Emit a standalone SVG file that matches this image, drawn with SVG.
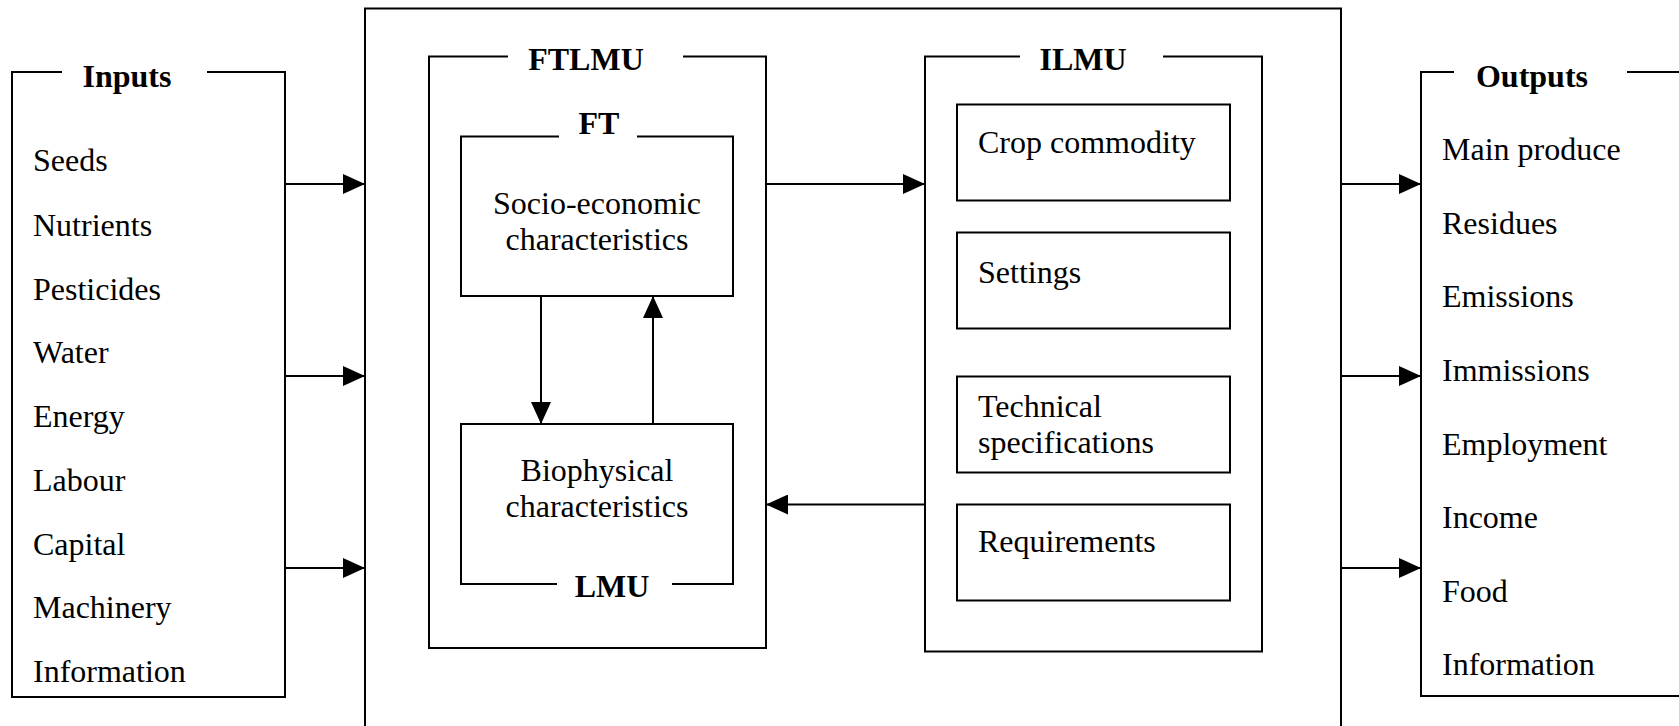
<svg xmlns="http://www.w3.org/2000/svg" width="1679" height="726" viewBox="0 0 1679 726">
  <style>
    .frame { fill: none; stroke: #000; stroke-width: 2; }
    .conn { fill: none; stroke: #000; stroke-width: 2; }
    text { font-family: "Liberation Serif", "Times New Roman", serif; font-size: 32px; fill: #000; }
    .title { font-weight: bold; text-anchor: middle; }
    .mid { text-anchor: middle; }
  </style>
  <defs>
    <marker id="arrow" markerUnits="userSpaceOnUse" markerWidth="22" markerHeight="20" refX="22" refY="10" orient="auto">
      <path d="M0,0 L22,10 L0,20 Z" fill="#000"/>
    </marker>
  </defs>
  <rect width="1679" height="726" fill="#fff"/>

  <!-- Inputs column -->
  <g id="inputs">
    <path class="frame" d="M62,72 H12 V697 H285 V72 H207"/>
    <text class="title" x="127" y="87">Inputs</text>
    <text x="33" y="171">Seeds</text>
    <text x="33" y="236">Nutrients</text>
    <text x="33" y="300">Pesticides</text>
    <text x="33" y="363">Water</text>
    <text x="33" y="427">Energy</text>
    <text x="33" y="491">Labour</text>
    <text x="33" y="555">Capital</text>
    <text x="33" y="618">Machinery</text>
    <text x="33" y="682">Information</text>
  </g>

  <!-- Enclosing system frame (open at the bottom edge) -->
  <g id="system">
    <path class="frame" d="M365,726 V8.5 H1341 V726"/>
  </g>

  <!-- FTLMU -->
  <g id="ftlmu">
    <path class="frame" d="M508,56.5 H429 V648 H766 V56.5 H683"/>
    <text class="title" x="586" y="70">FTLMU</text>
  </g>

  <g id="ft">
    <path class="frame" d="M559,136.5 H461 V296 H733 V136.5 H637"/>
    <text class="title" x="599" y="134">FT</text>
    <text class="mid" x="597" y="214">Socio-economic</text>
    <text class="mid" x="597" y="250">characteristics</text>
  </g>

  <g id="lmu">
    <path class="frame" d="M557,584 H461 V424 H733 V584 H672"/>
    <text class="title" x="612" y="597">LMU</text>
    <text class="mid" x="597" y="481">Biophysical</text>
    <text class="mid" x="597" y="517">characteristics</text>
  </g>

  <!-- ILMU -->
  <g id="ilmu">
    <path class="frame" d="M1020,56.5 H925 V651.5 H1262 V56.5 H1163"/>
    <text class="title" x="1083" y="70">ILMU</text>
  </g>

  <g id="crop-commodity">
    <rect class="frame" x="957" y="104.5" width="273" height="96"/>
    <text x="978" y="153">Crop commodity</text>
  </g>

  <g id="settings">
    <rect class="frame" x="957" y="232.5" width="273" height="96"/>
    <text x="978" y="283">Settings</text>
  </g>

  <g id="technical-specifications">
    <rect class="frame" x="957" y="376.5" width="273" height="96"/>
    <text x="978" y="417">Technical</text>
    <text x="978" y="453">specifications</text>
  </g>

  <g id="requirements">
    <rect class="frame" x="957" y="504.5" width="273" height="96"/>
    <text x="978" y="552">Requirements</text>
  </g>

  <!-- Outputs column (runs past the right edge) -->
  <g id="outputs">
    <path class="frame" d="M1454,72 H1421 V696 H1680"/>
    <path class="frame" d="M1627,72 H1680"/>
    <text class="title" x="1532" y="87">Outputs</text>
    <text x="1442" y="160">Main produce</text>
    <text x="1442" y="234">Residues</text>
    <text x="1442" y="307">Emissions</text>
    <text x="1442" y="381">Immissions</text>
    <text x="1442" y="455">Employment</text>
    <text x="1442" y="528">Income</text>
    <text x="1442" y="602">Food</text>
    <text x="1442" y="675">Information</text>
  </g>

  <!-- Connectors -->
  <g id="connectors">
    <path class="conn" d="M285,184 H365" marker-end="url(#arrow)"/>
    <path class="conn" d="M285,376 H365" marker-end="url(#arrow)"/>
    <path class="conn" d="M285,568 H365" marker-end="url(#arrow)"/>
    <path class="conn" d="M541,296 V424" marker-end="url(#arrow)"/>
    <path class="conn" d="M653,424 V296" marker-end="url(#arrow)"/>
    <path class="conn" d="M766,184 H925" marker-end="url(#arrow)"/>
    <path class="conn" d="M925,504.5 H766" marker-end="url(#arrow)"/>
    <path class="conn" d="M1341,184 H1421" marker-end="url(#arrow)"/>
    <path class="conn" d="M1341,376 H1421" marker-end="url(#arrow)"/>
    <path class="conn" d="M1341,568 H1421" marker-end="url(#arrow)"/>
  </g>
</svg>
